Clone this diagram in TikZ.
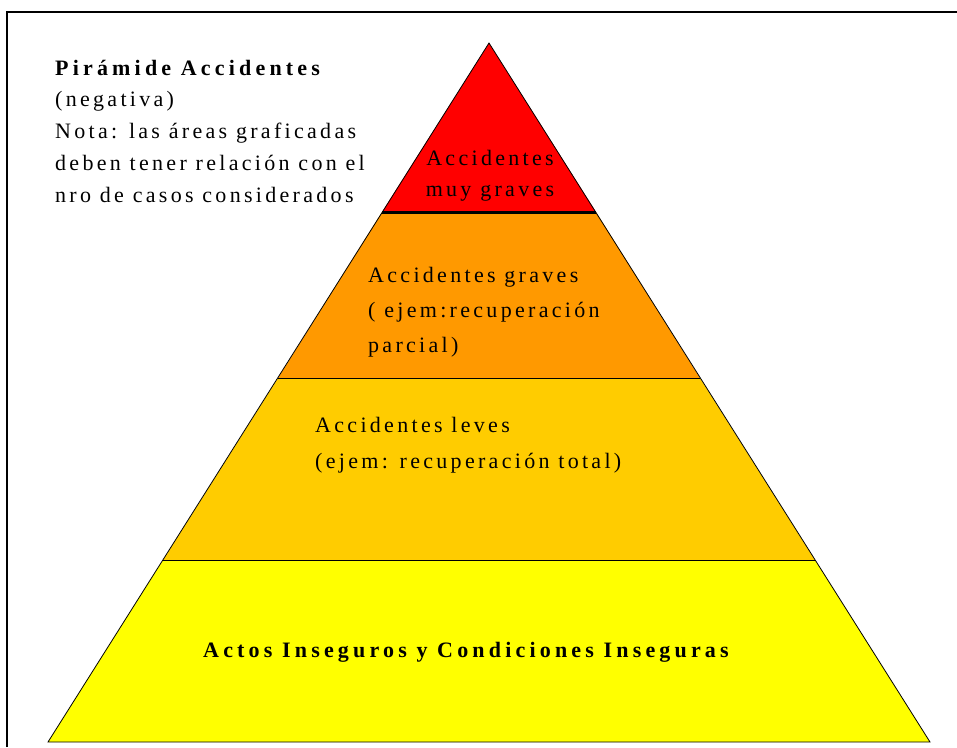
\documentclass[tikz,border=0pt]{standalone}
\usepackage{fontspec}
\newfontfamily\picfont{Liberation Serif}[LetterSpace=15]
\newfontfamily\picfontb{Liberation Serif Bold}[LetterSpace=19]
\definecolor{rojo}{HTML}{FF0000}
\definecolor{naranja}{HTML}{FF9900}
\definecolor{dorado}{HTML}{FFCC00}
\definecolor{amarillo}{HTML}{FFFF00}
\tikzset{
  txt/.style={inner sep=0pt,anchor=base west,font=\picfont\fontsize{22}{26}\selectfont},
  txtb/.style={txt,font=\picfontb\fontsize{22}{26}\selectfont},
  txtc/.style={txt,anchor=base},
  capa/.style={draw=black,line width=0.8pt}
}
\begin{document}
\begin{tikzpicture}[x=1pt,y=-1pt]
   \useasboundingbox (0,0) rectangle (957,747);
   % marco
   \draw[line width=1.5pt] (7,747) -- (7,12) -- (957,12);

   \coordinate (a0) at (489,43);
   \coordinate (l1) at (382,212);
   \coordinate (r1) at (596,212);
   \coordinate (l2) at (278,378);
   \coordinate (r2) at (700,378);
   \coordinate (l3) at (163,560);
   \coordinate (r3) at (815,560);
   \coordinate (l4) at (48,742);
   \coordinate (r4) at (930,742);

   \fill[amarillo] (l3) -- (r3) -- (r4) -- (l4) -- cycle;
   \fill[dorado] (l2) -- (r2) -- (r3) -- (l3) -- cycle;
   \fill[naranja] (l1) -- (r1) -- (r2) -- (l2) -- cycle;
   \fill[rojo] (a0) -- (r1) -- (l1) -- cycle;
   \draw[capa] (a0) -- (l4) -- (r4) -- cycle;
   \draw[capa] (l2) -- (r2);
   \draw[capa] (l3) -- (r3);
   \draw[line width=3pt] (l1) -- (r1);

   \node[txtb] (tit) at (55,75) {Pirámide Accidentes};
   \node[txt] (neg) at (55,106) {(negativa)};
   \node[txt] (nota1) at (55,138) {Nota: las áreas graficadas};
   \node[txt] (nota2) at (55,170) {deben tener relación con el};
   \node[txt] (nota3) at (55,202) {nro de casos considerados};

   \node[txtc] (mg1) at (490,165) {Accidentes};
   \node[txtc] (mg2) at (490,196) {muy graves};

   \node[txt] (g1) at (368,282) {Accidentes graves};
   \node[txt] (g2) at (368,317) {( ejem:recuperación};
   \node[txt] (g3) at (368,352) {parcial)};

   \node[txt] (lv1) at (315,432) {Accidentes leves};
   \node[txt] (lv2) at (315,468) {(ejem: recuperación total)};

   \node[txtb,anchor=base] (actos) at (466,657) {Actos Inseguros y Condiciones Inseguras};
\end{tikzpicture}
\end{document}
